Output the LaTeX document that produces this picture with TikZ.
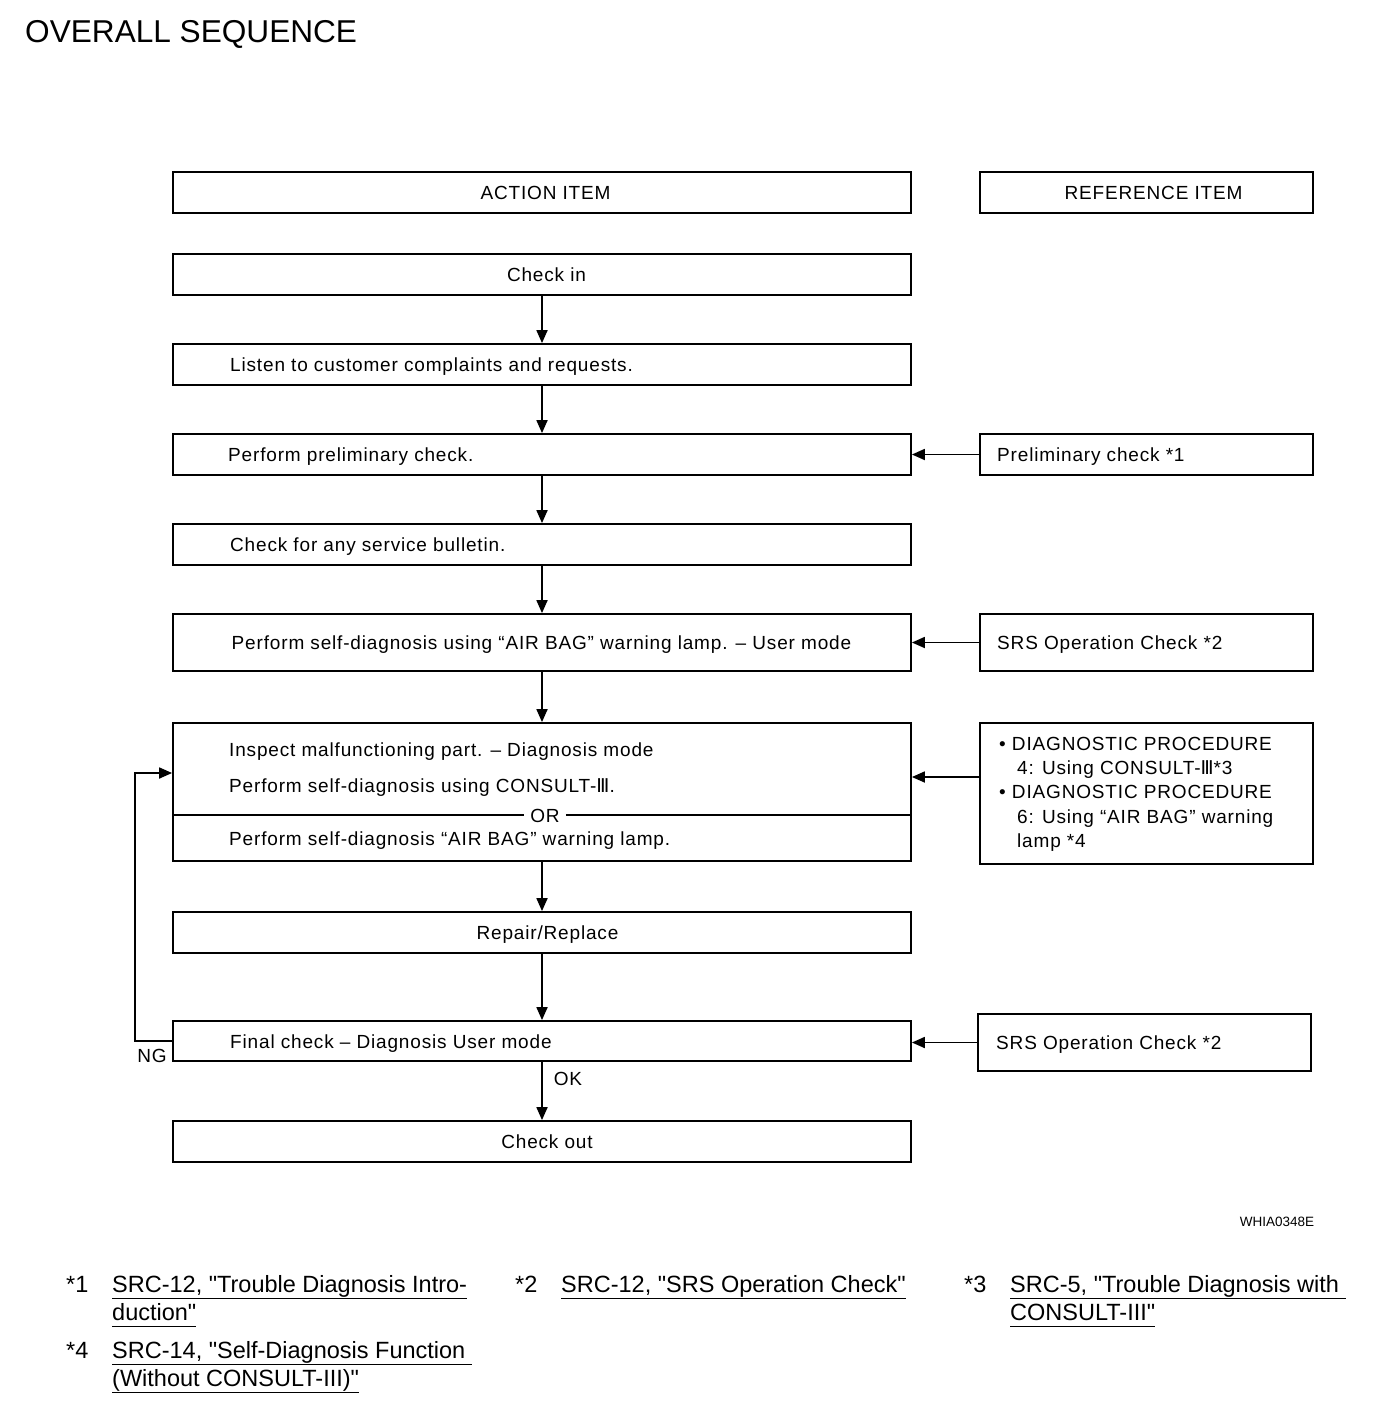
\documentclass[tikz,border=0pt]{standalone}
\usepackage{fontspec}
\setmainfont{Liberation Sans}
\newfontfamily\spaced[LetterSpace=4.4]{Liberation Sans}
\newfontfamily\fnfont[Ligatures=TeXOff]{Liberation Sans}
\newfontfamily\djv[LetterSpace=4.4]{DejaVu Sans}
\usetikzlibrary{arrows.meta}
\newcommand{\RomIII}{{\djv Ⅲ}}
\newcommand{\fnul}[1]{\underline{#1\vphantom{(}}}
\tikzset{
  box/.style={draw, line width=1.8pt, inner sep=0pt, text height=14pt, text depth=0pt, font=\spaced\fontsize{19}{24}\selectfont},
  hbox/.style={draw, line width=2.6pt, inner sep=0pt, text height=14pt, text depth=0pt, font=\spaced\fontsize{19}{24}\selectfont},
  txt/.style={inner sep=0pt, text height=14pt, text depth=0pt, font=\spaced\fontsize{19}{24}\selectfont},
  arr/.style={line width=1.8pt, -{Triangle[length=13pt,width=11pt]}},
  ln/.style={line width=1.8pt},
  fn/.style={inner sep=0pt, anchor=base west, font=\fnfont\fontsize{23.5}{29}\selectfont},
}
\begin{document}
\begin{tikzpicture}[x=1pt,y=-1pt]
\useasboundingbox (0,0) rectangle (1392,1408);
\node[anchor=west, inner sep=0pt, font=\fontsize{31.6}{36}\selectfont, text height=23pt, text depth=0pt] (title) at (25,31) {OVERALL SEQUENCE};

% headers
\node[hbox, minimum width=738pt, minimum height=41pt] (hA) at (542,192.5) {};
\node[txt] (hAt) at (545.5,192.5) {ACTION ITEM};
\node[hbox, minimum width=333pt, minimum height=41pt] (hR) at (1146.5,192.5) {};
\node[txt] (hRt) at (1153.5,192.5) {REFERENCE ITEM};

% action boxes
\node[box, minimum width=738pt, minimum height=41pt] (b1) at (542,274.5) {};
\node[txt] (t1) at (546.5,274.5) {Check in};
\node[box, minimum width=738pt, minimum height=41pt] (b2) at (542,364.5) {};
\node[txt, anchor=west] (t2) at (230,364.5) {Listen to customer complaints and requests.};
\node[box, minimum width=738pt, minimum height=41pt] (b3) at (542,454.5) {};
\node[txt, anchor=west] (t3) at (228,454.5) {Perform preliminary check.};
\node[box, minimum width=738pt, minimum height=41pt] (b4) at (542,544.5) {};
\node[txt, anchor=west] (t4) at (230,544.5) {Check for any service bulletin.};
\node[box, minimum width=738pt, minimum height=57pt] (b5) at (542,642.5) {};
\node[txt] (t5) at (541.5,642.5) {Perform self-diagnosis using “AIR BAG” warning lamp. – User mode};
\node[box, minimum width=738pt, minimum height=138pt] (b6) at (542,792) {};
\node[txt, anchor=west] (t6a) at (229,749) {Inspect malfunctioning part. – Diagnosis mode};
\node[txt, anchor=west] (t6b) at (229,785) {Perform self-diagnosis using CONSULT-\RomIII.};
\node[txt, inner xsep=6pt] (or) at (545,815) {OR};
\node[txt, anchor=west] (t6c) at (229,838) {Perform self-diagnosis “AIR BAG” warning lamp.};
\draw[ln] (or.west -| b6.west) -- (or.west);
\draw[ln] (or.east) -- (or.east -| b6.east);
\node[box, minimum width=738pt, minimum height=41pt] (b7) at (542,932.5) {};
\node[txt] (t7) at (547.5,932.5) {Repair/Replace};
\node[box, minimum width=738pt, minimum height=40pt] (b8) at (542,1041) {};
\node[txt, anchor=west] (t8) at (230,1041) {Final check – Diagnosis User mode};
\node[box, minimum width=738pt, minimum height=41pt] (b9) at (542,1141.5) {};
\node[txt] (t9) at (547,1141.5) {Check out};

% reference boxes
\node[box, minimum width=333pt, minimum height=41pt] (r1) at (1146.5,454.5) {};
\node[txt, anchor=west] (rt1) at (997,454.5) {Preliminary check *1};
\node[box, minimum width=333pt, minimum height=57pt] (r2) at (1146.5,642.5) {};
\node[txt, anchor=west] (rt2) at (997,642.5) {SRS Operation Check *2};
\node[box, minimum width=333pt, minimum height=141pt] (r3) at (1146.5,793.5) {};
\node[txt, anchor=west] (rt3a) at (999,743) {• DIAGNOSTIC PROCEDURE};
\node[txt, anchor=west] (rt3b) at (1017,767) {4: Using CONSULT-\RomIII*3};
\node[txt, anchor=west] (rt3c) at (999,791) {• DIAGNOSTIC PROCEDURE};
\node[txt, anchor=west] (rt3d) at (1017,816) {6: Using “AIR BAG” warning};
\node[txt, anchor=west] (rt3e) at (1017,840) {lamp *4};
\node[box, minimum width=333pt, minimum height=57pt] (r4) at (1144.5,1042.5) {};
\node[txt, anchor=west] (rt4) at (996,1042.5) {SRS Operation Check *2};

% vertical flow
\draw[arr] (b1.south) -- (b2.north);
\draw[arr] (b2.south) -- (b3.north);
\draw[arr] (b3.south) -- (b4.north);
\draw[arr] (b4.south) -- (b5.north);
\draw[arr] (b5.south) -- (b6.north);
\draw[arr] (b6.south) -- (b7.north);
\draw[arr] (b7.south) -- (b8.north);
\draw[arr] (b8.south) -- (b9.north);

% reference arrows
\draw[arr] (r1.west) -- (r1.west -| b3.east);
\draw[arr] (r2.west) -- (r2.west -| b5.east);
\coordinate (y3) at (0,777);
\draw[arr] (y3 -| r3.west) -- (y3 -| b6.east);
\draw[arr] (r4.west) -- (r4.west -| b8.east);

% NG loop
\coordinate (lp) at (135,773);
\draw[arr] (b8.west) -| (lp) -- (lp -| b6.west);
\node[txt] (ng) at (152,1055) {NG};
\node[txt] (ok) at (568,1078) {OK};

\node[inner sep=0pt, font=\fontsize{13.5}{15}\selectfont] (code) at (1277,1222) {WHIA0348E};

% footnotes
\node[fn] (f1m) at (66,1292) {*1};
\node[fn] (f1a) at (112,1292) {\fnul{SRC-12, "Trouble Diagnosis Intro-}};
\node[fn] (f1b) at (112,1320) {\fnul{duction"}};
\node[fn] (f2m) at (515,1292) {*2};
\node[fn] (f2a) at (561,1292) {\fnul{SRC-12, "SRS Operation Check"}};
\node[fn] (f3m) at (964,1292) {*3};
\node[fn] (f3a) at (1010,1292) {\fnul{SRC-5, "Trouble Diagnosis with }};
\node[fn] (f3b) at (1010,1320) {\fnul{CONSULT-III"}};
\node[fn] (f4m) at (66,1358) {*4};
\node[fn] (f4a) at (112,1358) {\fnul{SRC-14, "Self-Diagnosis Function }};
\node[fn] (f4b) at (112,1386) {\fnul{(Without CONSULT-III)"}};
\end{tikzpicture}
\end{document}
